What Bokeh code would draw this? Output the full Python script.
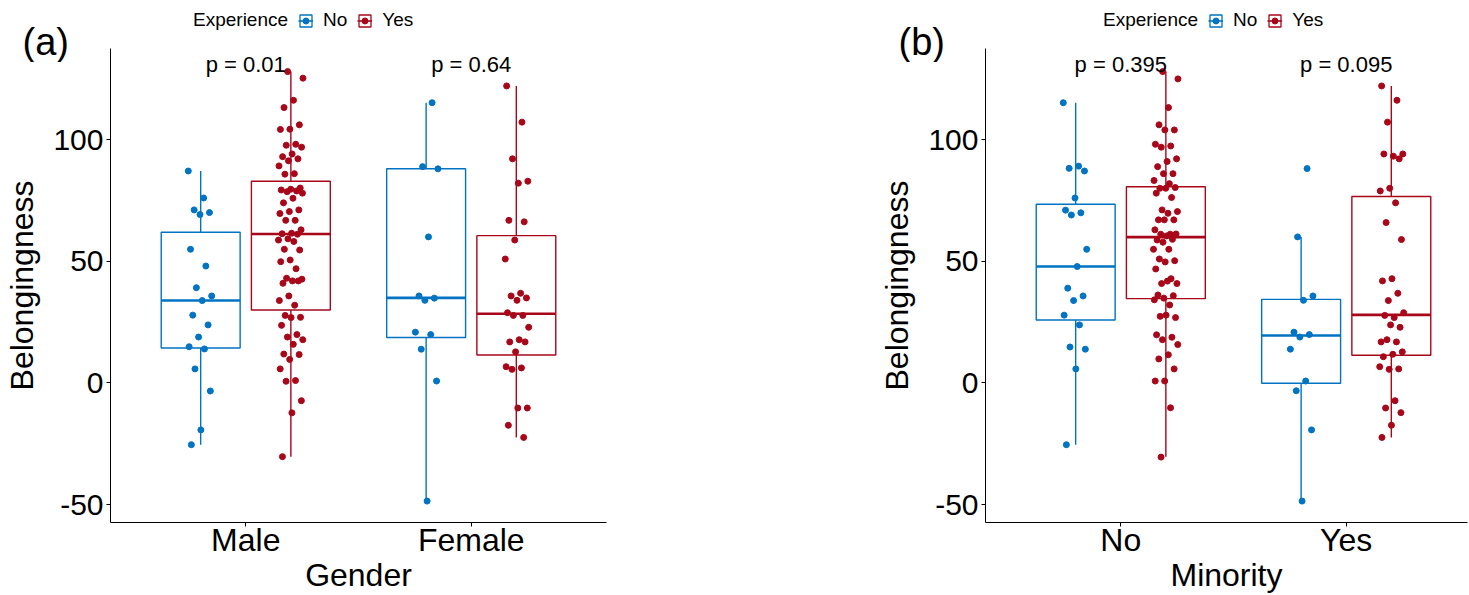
import numpy as np
from bokeh.plotting import figure
from bokeh.models import FixedTicker, Legend, LegendItem, Range1d, ColumnDataSource
from bokeh.layouts import row, column
from bokeh.embed import file_html
from bokeh.resources import INLINE
from bokeh.core.properties import value

FONT = "Liberation Sans"
BLUE = "#0073C2"
RED = "#A8071A"

# ---------------- data: panel (a) Gender ----------------
gender_cats = ["Male", "Female"]
gender_p = ["p = 0.01", "p = 0.64"]
male_no = [87.2, 76.1, 71.2, 70.1, 69.3, 55.0, 48.1, 39.2, 35.8, 33.9, 27.9, 23.9,
           18.9, 14.9, 14.0, 5.8, -3.3, -19.3, -25.4]
male_yes = [128.1, 125.4, 116.3, 113.3, 106.2, 104.4, 104.3, 98.2, 97.8, 97.0,
            94.2, 93.1, 92.2, 91.4, 89.3, 86.1, 85.9, 80.2, 79.7, 79.4,
            79.0, 78.7, 78.1, 76.0, 74.1, 71.2, 70.5, 69.7, 66.9, 66.9,
            63.0, 61.6, 61.4, 61.2, 59.3, 58.8, 58.2, 55.0, 54.7, 50.6,
            49.9, 47.0, 43.1, 42.7, 42.0, 41.0, 42.0, 35.8, 33.9, 32.0,
            27.8, 27.0, 26.9, 23.7, 19.9, 18.9, 17.8, 15.9, 11.9, 11.7,
            9.7, 5.8, 1.0, 0.7, -7.3, -12.3, -30.3]
female_no = [115.3, 89.0, 88.1, 60.1, 35.8, 34.9, 34.0, 20.9, 19.9, 13.9, 0.8, -48.6]
female_yes = [122.2, 107.3, 92.2, 83.0, 82.2, 66.9, 66.3, 58.8, 51.0, 36.9, 35.8, 35.0,
              34.0, 28.9, 27.8, 27.8, 22.9, 17.8, 16.9, 16.9, 12.8, 6.7, 6.2, 5.6,
              -10.3, -10.3, -17.4, -22.4]
# box stats: lower whisker, Q1, median, Q3, upper whisker
male_no_box = [-25.4, 14.4, 33.9, 62.0, 87.2]
male_yes_box = [-30.3, 30.0, 61.3, 83.0, 128.1]
female_no_box = [-48.6, 18.7, 35.0, 88.1, 115.3]
female_yes_box = [-22.4, 11.5, 28.5, 60.6, 122.2]

# ---------------- data: panel (b) Minority ----------------
minority_cats = ["No", "Yes"]
minority_p = ["p = 0.395", "p = 0.095"]
minno_no = [115.3, 89.2, 88.3, 87.2, 76.1, 71.1, 70.0, 69.1, 55.0, 47.9, 39.0, 35.8,
            33.9, 27.9, 23.9, 14.8, 13.9, 5.8, -25.4]
minno_yes = [128.1, 125.1, 113.3, 106.2, 104.1, 104.1, 98.2, 97.5, 97.0, 92.2,
             91.1, 89.0, 86.1, 86.1, 83.3, 82.0, 80.1, 80.4, 80.1, 78.1,
             76.3, 71.2, 70.5, 69.8, 67.1, 67.1, 67.1, 63.0, 61.2, 61.2,
             61.3, 60.5, 58.8, 59.1, 57.9, 55.0, 55.0, 51.0, 50.3, 49.8,
             46.9, 42.9, 40.9, 40.9, 41.9, 36.2, 35.9, 34.9, 34.2, 32.1,
             27.4, 26.9, 27.9, 19.8, 18.8, 17.8, 15.8, 11.6, 9.9, 5.8,
             0.8, 0.8, -10.2, -30.5]
minyes_no = [88.2, 60.1, 35.8, 34.0, 20.9, 19.9, 18.9, 13.9, 0.8, -3.2, -19.3, -48.6]
minyes_yes = [122.2, 116.3, 107.3, 94.2, 93.3, 94.2, 92.2, 80.1, 79.0, 74.1, 66.0, 59.0,
              42.9, 42.0, 36.9, 33.9, 28.9, 26.9, 27.8, 22.9, 23.9, 16.9, 16.9, 17.8,
              12.8, 11.8, 10.8, 5.8, 5.6, 6.7, -7.3, -10.3, -12.2, -17.4, -22.4]
minno_no_box = [-25.4, 25.9, 47.9, 73.5, 115.3]
minno_yes_box = [-30.3, 34.7, 60.0, 80.7, 128.1]
minyes_no_box = [-48.6, -0.1, 19.5, 34.4, 60.1]
minyes_yes_box = [-22.4, 11.4, 28.0, 76.7, 122.2]

experience = ["No", "Yes"]
colors = [BLUE, RED]
HEAD_H = 62
OVERLAP = 14


def jitter(n, k):
    return ((np.arange(n) * 0.618034 + 0.37 * k) % 1.0 - 0.5) * 0.11


def header(width, tag, tag_x, leg_x):
    h = figure(width=width, height=HEAD_H, output_backend="svg", toolbar_location=None,
               x_range=Range1d(0, width), y_range=Range1d(HEAD_H, 0),
               x_axis_type=None, y_axis_type=None,
               min_border=0, min_border_left=0, min_border_right=0,
               min_border_top=0, min_border_bottom=0)
    h.frame_align = False
    h.outline_line_color = None
    h.xgrid.visible = False
    h.ygrid.visible = False
    h.background_fill_color = None
    h.border_fill_color = None
    h.text(x=[tag_x], y=[41], text=[tag], text_font=value(FONT), text_font_size="38px",
           text_baseline="alphabetic", text_align="left", text_color="black")
    r_blank = h.scatter(x=[-500], y=[-500], size=1, fill_alpha=0, line_alpha=0)
    items = [LegendItem(label="Experience", renderers=[r_blank])]
    for lab, col in zip(experience, colors):
        src = ColumnDataSource(dict(x=[-500], y=[-500]))
        rq = h.quad(left="x", right="x", top="y", bottom="y", source=src,
                    fill_color="white", line_color=col, line_width=1.3)
        rs = h.segment(x0="x", y0="y", x1="x", y1="y", source=src, line_color=col, line_width=1.6)
        rp = h.scatter(x="x", y="y", source=src, size=6, fill_color=col, line_color=col)
        items.append(LegendItem(label=lab, renderers=[rq, rs, rp]))
    leg = Legend(items=items, orientation="horizontal", location=(leg_x, HEAD_H - 31),
                 border_line_color=None, background_fill_alpha=0, padding=0, margin=0,
                 spacing=10, label_standoff=10, glyph_width=15, glyph_height=15,
                 label_text_font=FONT, label_text_font_size="19px",
                 label_text_color="black")
    h.add_layout(leg)
    return h


def panel(cats, pts_no, pts_yes, box_no, box_yes, plabels, xtitle,
          width, border_left, border_right, x_end):
    height = 595 - HEAD_H + OVERLAP
    p = figure(width=width, height=height, output_backend="svg", toolbar_location=None,
               x_range=Range1d(0.4, x_end), y_range=Range1d(-57.4, 137.6),
               min_border_left=border_left, min_border_right=border_right,
               min_border_top=0, min_border_bottom=height - 474)
    p.frame_align = False
    p.margin = (-OVERLAP, 0, 0, 0)
    p.outline_line_color = None
    p.xgrid.visible = False
    p.ygrid.visible = False
    p.background_fill_color = None
    p.border_fill_color = None

    for k, (color, pts, boxes, off) in enumerate([
            (BLUE, pts_no, box_no, -0.2), (RED, pts_yes, box_yes, 0.2)]):
        xs = [i + 1 + off for i in range(len(cats))]
        hw = 0.175
        src = ColumnDataSource(dict(
            x=xs, left=[x - hw for x in xs], right=[x + hw for x in xs],
            lo=[b[0] for b in boxes], q1=[b[1] for b in boxes], med=[b[2] for b in boxes],
            q3=[b[3] for b in boxes], hi=[b[4] for b in boxes]))
        p.quad(left="left", right="right", bottom="q1", top="q3", source=src,
               fill_color="white", line_color=color, line_width=1.4)
        p.segment(x0="x", y0="q3", x1="x", y1="hi", source=src, line_color=color, line_width=1.4)
        p.segment(x0="x", y0="lo", x1="x", y1="q1", source=src, line_color=color, line_width=1.4)
        p.segment(x0="left", y0="med", x1="right", y1="med", source=src,
                  line_color=color, line_width=2.6)
        px, py = [], []
        for i, vals in enumerate(pts):
            j = jitter(len(vals), 2 * i + k)
            px += list(xs[i] + j)
            py += list(vals)
        p.scatter(px, py, size=6, fill_color=color, line_color=color)

    p.text(x=[1, 2], y=[131, 131], text=plabels, text_align="center",
           text_baseline="alphabetic", text_font=value(FONT), text_font_size="22px",
           text_color="black")

    for ax in (p.xaxis[0], p.yaxis[0]):
        ax.axis_line_color = "black"
        ax.axis_line_width = 1
        ax.major_tick_line_color = "black"
        ax.major_tick_out = 4
        ax.major_tick_in = 0
        ax.minor_tick_line_color = None
        ax.major_label_text_font = FONT
        ax.major_label_text_color = "black"
        ax.axis_label_text_font = FONT
        ax.axis_label_text_font_size = "32px"
        ax.axis_label_text_font_style = "normal"
        ax.axis_label_text_color = "black"
    p.xaxis.ticker = FixedTicker(ticks=[1, 2])
    p.xaxis.major_label_overrides = {1: cats[0], 2: cats[1]}
    p.xaxis.major_label_text_font_size = "32px"
    p.xaxis.major_label_standoff = -5
    p.xaxis.axis_label = xtitle
    p.xaxis.axis_label_standoff = -4
    p.yaxis.ticker = FixedTicker(ticks=[-50, 0, 50, 100])
    p.yaxis.major_label_overrides = {-50: "-50", 0: "0", 50: "50", 100: "100"}
    p.yaxis.major_label_text_font_size = "30px"
    p.yaxis.major_label_standoff = 3
    p.yaxis.axis_label = "Belongingness"
    p.yaxis.axis_label_standoff = 10
    return p


ha = header(735, "(a)", 22, 168)
hb = header(734, "(b)", 163, 343)
pa = panel(gender_cats, [male_no, female_no], [male_yes, female_yes],
           [male_no_box, female_no_box], [male_yes_box, female_yes_box],
           gender_p, "Gender", 735, 110, 129, 2.6)
pb = panel(minority_cats, [minno_no, minyes_no], [minno_yes, minyes_yes],
           [minno_no_box, minyes_no_box], [minno_yes_box, minyes_yes_box],
           minority_p, "Minority", 734, 250, 2, 0.4 + 482 / 225.45)

layout = row(column(ha, pa), column(hb, pb))
open("out.html", "w").write(file_html(layout, INLINE))
